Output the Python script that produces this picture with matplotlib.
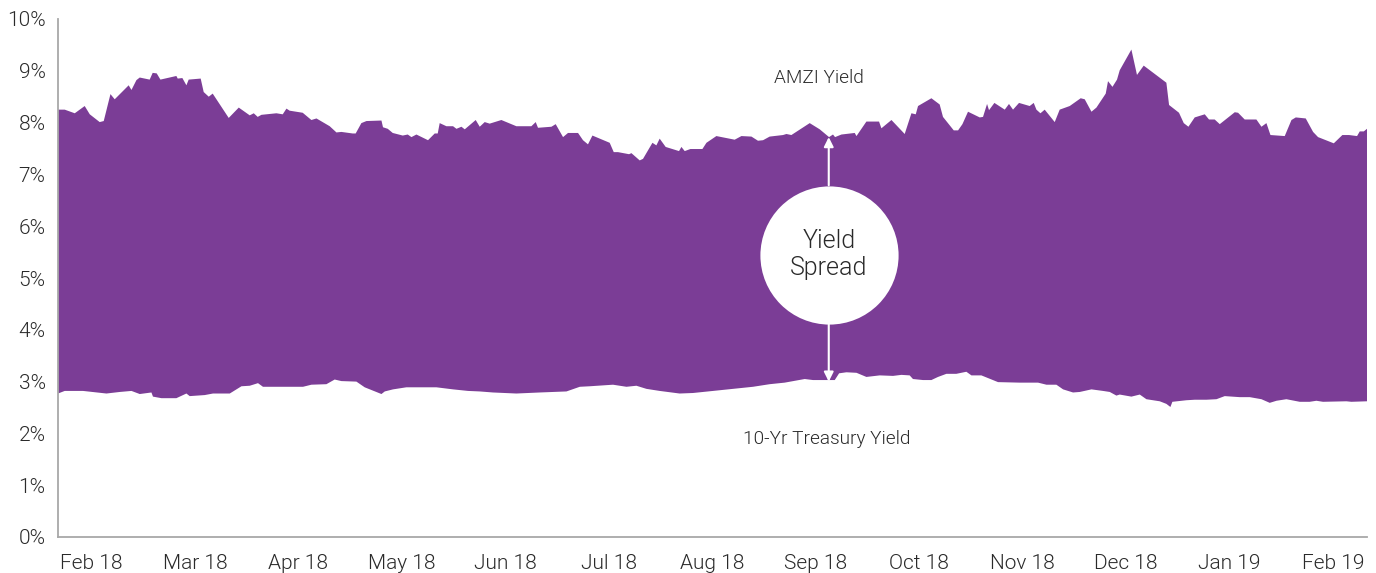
import matplotlib
matplotlib.use("Agg")
import matplotlib.pyplot as plt
from matplotlib import font_manager as fm
import numpy as np

# pick Roboto Light if installed, otherwise Roboto regular
light_file = None
for f in fm.fontManager.ttflist:
    if f.fname.split('/')[-1].lower() in ('roboto-light.ttf', 'roboto-light.otf'):
        light_file = f
        break
if light_file is not None:
    plt.rcParams['font.family'] = [light_file.name, 'DejaVu Sans']
    plt.rcParams['font.weight'] = light_file.weight
    text_col = '#2a2a2a'
else:
    plt.rcParams['font.family'] = ['Roboto', 'DejaVu Sans']
    plt.rcParams['font.weight'] = 'normal'
    text_col = '#4a4a4a'

# x positions in months since Feb 2018 (tick "Feb 18" = 0)
amzi_t = [-0.323, -0.258, -0.161, -0.065, -0.016, 0.080, 0.119, 0.184, 0.225, 0.360,
          0.387, 0.435, 0.467, 0.563, 0.592, 0.631, 0.667, 0.821, 0.834, 0.879,
          0.918, 0.940, 1.056, 1.085, 1.134, 1.172, 1.327, 1.424, 1.530, 1.569,
          1.607, 1.643, 1.788, 1.849, 1.885, 1.916, 2.042, 2.126, 2.175, 2.303,
          2.368, 2.416, 2.525, 2.554, 2.609, 2.658, 2.803, 2.818, 2.864, 2.912,
          3.009, 3.057, 3.093, 3.141, 3.253, 3.318, 3.347, 3.366, 3.431, 3.495,
          3.528, 3.576, 3.608, 3.714, 3.753, 3.801, 3.849, 3.962, 4.107, 4.252,
          4.294, 4.316, 4.446, 4.487, 4.558, 4.606, 4.703, 4.751, 4.799, 4.842,
          5.009, 5.048, 5.089, 5.196, 5.219, 5.299, 5.331, 5.422, 5.460, 5.492,
          5.550, 5.679, 5.702, 5.734, 5.789, 5.905, 5.944, 6.040, 6.217, 6.282,
          6.379, 6.442, 6.491, 6.555, 6.684, 6.717, 6.765, 6.942, 7.039, 7.129,
          7.167, 7.187, 7.249, 7.377, 7.394, 7.490, 7.612, 7.635, 7.732, 7.860,
          7.925, 7.967, 7.989, 8.118, 8.198, 8.230, 8.334, 8.376, 8.418, 8.472,
          8.585, 8.617, 8.656, 8.675, 8.727, 8.827, 8.868, 8.907, 8.965, 9.068,
          9.107, 9.133, 9.172, 9.213, 9.310, 9.358, 9.455, 9.561, 9.600, 9.665,
          9.713, 9.803, 9.825, 9.868, 9.912, 9.938, 10.051, 10.105, 10.170, 10.389,
          10.415, 10.511, 10.557, 10.602, 10.663, 10.760, 10.801, 10.856, 10.905, 11.050,
          11.082, 11.146, 11.259, 11.308, 11.356, 11.395, 11.533, 11.598, 11.640, 11.736,
          11.807, 11.855, 12.007, 12.090, 12.154, 12.232, 12.258, 12.297, 12.328]
amzi_v = [8.25, 8.25, 8.18, 8.32, 8.16, 8.01, 8.03, 8.55, 8.45, 8.72,
          8.63, 8.82, 8.87, 8.83, 8.96, 8.95, 8.83, 8.90, 8.85, 8.86,
          8.72, 8.83, 8.85, 8.59, 8.50, 8.56, 8.09, 8.29, 8.14, 8.18,
          8.11, 8.15, 8.18, 8.16, 8.27, 8.23, 8.19, 8.05, 8.08, 7.93,
          7.81, 7.82, 7.79, 7.79, 7.99, 8.03, 8.04, 7.91, 7.88, 7.80,
          7.75, 7.77, 7.72, 7.77, 7.66, 7.79, 7.79, 7.99, 7.93, 7.93,
          7.88, 7.92, 7.87, 8.05, 7.92, 8.01, 7.98, 8.05, 7.93, 7.93,
          8.01, 7.90, 7.92, 7.97, 7.72, 7.80, 7.80, 7.66, 7.58, 7.75,
          7.61, 7.43, 7.43, 7.39, 7.41, 7.27, 7.30, 7.61, 7.56, 7.69,
          7.53, 7.45, 7.53, 7.45, 7.49, 7.49, 7.61, 7.74, 7.67, 7.74,
          7.73, 7.65, 7.66, 7.73, 7.76, 7.78, 7.76, 7.99, 7.87, 7.72,
          7.77, 7.72, 7.77, 7.80, 7.74, 8.02, 8.02, 7.89, 8.05, 7.78,
          8.18, 8.16, 8.32, 8.47, 8.35, 8.11, 7.85, 7.85, 7.97, 8.21,
          8.10, 8.11, 8.36, 8.24, 8.38, 8.25, 8.36, 8.25, 8.38, 8.32,
          8.38, 8.25, 8.18, 8.25, 8.01, 8.25, 8.32, 8.47, 8.45, 8.21,
          8.29, 8.56, 8.80, 8.69, 8.83, 9.01, 9.41, 8.92, 9.10, 8.77,
          8.34, 8.19, 7.99, 7.92, 8.10, 8.16, 8.06, 8.06, 7.97, 8.20,
          8.19, 8.06, 8.06, 7.92, 7.99, 7.76, 7.74, 8.05, 8.10, 8.08,
          7.82, 7.72, 7.60, 7.76, 7.76, 7.74, 7.83, 7.83, 7.88]

tsy_t = [-0.323, -0.258, -0.081, 0.145, 0.274, 0.387, 0.467, 0.580, 0.595, 0.677,
         0.821, 0.918, 0.950, 1.095, 1.175, 1.337, 1.450, 1.530, 1.610, 1.658,
         2.045, 2.126, 2.271, 2.351, 2.416, 2.561, 2.641, 2.803, 2.835, 2.915,
         3.044, 3.334, 3.495, 3.640, 3.753, 3.881, 4.107, 4.333, 4.591, 4.720,
         4.816, 5.041, 5.171, 5.267, 5.364, 5.492, 5.685, 5.814, 6.008, 6.201,
         6.394, 6.555, 6.700, 6.894, 6.974, 7.136, 7.184, 7.226, 7.297, 7.394,
         7.490, 7.619, 7.747, 7.828, 7.908, 7.940, 8.037, 8.118, 8.182, 8.263,
         8.359, 8.456, 8.505, 8.601, 8.762, 8.972, 9.149, 9.230, 9.326, 9.391,
         9.487, 9.552, 9.665, 9.777, 9.842, 9.906, 9.938, 10.051, 10.132, 10.196,
         10.325, 10.389, 10.428, 10.447, 10.582, 10.663, 10.776, 10.873, 10.953, 11.098,
         11.195, 11.308, 11.388, 11.453, 11.549, 11.678, 11.774, 11.839, 11.903, 12.129,
         12.177, 12.328]
tsy_v = [2.77, 2.82, 2.82, 2.77, 2.80, 2.82, 2.76, 2.79, 2.71, 2.68,
         2.68, 2.77, 2.72, 2.74, 2.77, 2.77, 2.91, 2.92, 2.97, 2.90,
         2.90, 2.94, 2.95, 3.04, 3.01, 3.00, 2.89, 2.76, 2.81, 2.85,
         2.89, 2.89, 2.85, 2.82, 2.81, 2.79, 2.77, 2.79, 2.81, 2.90,
         2.91, 2.94, 2.90, 2.92, 2.86, 2.82, 2.77, 2.78, 2.82, 2.86,
         2.90, 2.95, 2.98, 3.05, 3.03, 3.03, 3.03, 3.16, 3.18, 3.17,
         3.09, 3.12, 3.11, 3.13, 3.12, 3.05, 3.03, 3.03, 3.09, 3.15,
         3.15, 3.19, 3.12, 3.12, 2.99, 2.98, 2.98, 2.94, 2.94, 2.85,
         2.79, 2.80, 2.85, 2.82, 2.80, 2.73, 2.75, 2.71, 2.75, 2.66,
         2.62, 2.57, 2.51, 2.61, 2.64, 2.65, 2.65, 2.66, 2.72, 2.70,
         2.70, 2.66, 2.59, 2.63, 2.66, 2.61, 2.61, 2.63, 2.61, 2.62,
         2.61, 2.62]

month_labels = ['Feb 18', 'Mar 18', 'Apr 18', 'May 18', 'Jun 18', 'Jul 18', 'Aug 18',
                'Sep 18', 'Oct 18', 'Nov 18', 'Dec 18', 'Jan 19', 'Feb 19']
y_ticks = [0, 1, 2, 3, 4, 5, 6, 7, 8, 9, 10]

purple = '#7b3d96'

fig = plt.figure(figsize=(13.76, 5.73), dpi=100)
ax = fig.add_axes([58/1376, 1 - 537/573, (1367 - 58)/1376, (537 - 19)/573])

poly_x = list(amzi_t) + list(tsy_t[::-1])
poly_y = list(amzi_v) + list(tsy_v[::-1])
ax.fill(poly_x, poly_y, color=purple, lw=0, zorder=2)

ax.set_xlim(amzi_t[0], amzi_t[-1])
ax.set_ylim(0, 10)
ax.set_xticks(range(len(month_labels)))
ax.set_xticklabels(month_labels)
ax.set_yticks(y_ticks)
ax.set_yticklabels([f'{v}%' for v in y_ticks])
ax.tick_params(length=0, labelsize=15, colors=text_col)
ax.tick_params(axis='y', pad=9)
ax.tick_params(axis='x', pad=12)
for s in ['top', 'right']:
    ax.spines[s].set_visible(False)
for s in ['left', 'bottom']:
    ax.spines[s].set_color('#a8a8a8')
    ax.spines[s].set_linewidth(1.3)

# annotations
cx, cy = 7.126, 5.45
ax.scatter([cx], [cy], s=9900, color='white', zorder=4, lw=0)
ax.text(cx, cy, 'Yield\nSpread', ha='center', va='center', fontsize=18,
        color=text_col, zorder=5, linespacing=1.15)
ax.annotate('', xy=(cx, 7.72), xytext=(cx, 6.79),
            arrowprops=dict(arrowstyle='-|>', color='white', lw=1.5,
                            mutation_scale=14, shrinkA=0, shrinkB=0), zorder=3)
ax.annotate('', xy=(cx, 3.0), xytext=(cx, 4.12),
            arrowprops=dict(arrowstyle='-|>', color='white', lw=1.5,
                            mutation_scale=14, shrinkA=0, shrinkB=0), zorder=3)
ax.text(7.03, 8.86, 'AMZI Yield', ha='center', va='center', fontsize=13.7, color=text_col)
ax.text(7.11, 1.90, '10-Yr Treasury Yield', ha='center', va='center', fontsize=13.7,
        color=text_col)

fig.savefig('out.png', dpi=100)
